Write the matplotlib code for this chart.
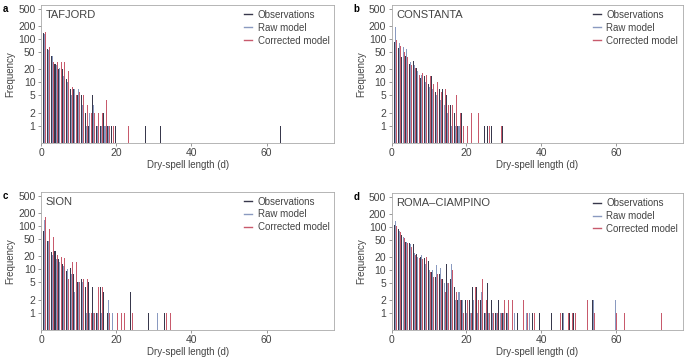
import matplotlib as mpl
import matplotlib.pyplot as plt
import numpy as np

mpl.rcParams["font.family"] = ["Liberation Sans", "DejaVu Sans"]
mpl.rcParams["font.size"] = 7

# frequency of dry spells per length (days 1..N), 0 = no bar
tafjord_obs = [140, 60, 42, 27, 20, 20, 12, 7, 7, 5, 5, 2, 1, 5, 1, 1, 2, 1, 1, 1,
               0, 0, 0, 0, 0, 0, 0, 1, 0, 0, 0, 1] + [0] * 31 + [1]
tafjord_raw = [135, 55, 40, 25, 22, 14, 10, 5, 7, 7, 3, 1, 2, 3, 1, 1, 1, 1]
tafjord_cor = [150, 65, 30, 30, 30, 30, 18, 8, 5, 6, 5, 3, 2, 2, 2, 2, 4, 1, 1, 0,
               0, 0, 1]

constanta_obs = [88, 62, 38, 42, 27, 32, 22, 13, 14, 9, 14, 6, 7, 7, 5, 3, 2, 1, 2, 0,
                 0, 0, 0, 0, 1, 1, 1, 0, 0, 1]
constanta_raw = [190, 80, 65, 60, 30, 26, 18, 15, 10, 8, 7, 5, 4, 3, 2, 1, 1, 1]
constanta_cor = [95, 70, 50, 38, 26, 22, 15, 17, 15, 14, 9, 10, 6, 7, 3, 3, 5, 2, 1, 1,
                 2, 0, 2, 0, 0, 1, 0, 0, 1]

sion_obs = [75, 45, 25, 26, 17, 13, 9, 11, 8, 5, 6, 4, 5, 4, 1, 4, 3, 1, 0, 0,
            0, 0, 0, 3, 0, 0, 0, 0, 1, 0, 0, 0, 1]
sion_raw = [140, 45, 22, 17, 15, 12, 10, 8, 3, 5, 5, 1, 1, 1, 1, 1, 0, 2, 1, 0,
            0, 0, 0, 0, 0, 0, 0, 0, 0, 0, 1]
sion_cor = [160, 85, 55, 22, 19, 18, 6, 15, 15, 5, 6, 6, 1, 1, 4, 4, 0, 1, 0, 1,
            1, 1, 0, 1, 0, 0, 0, 0, 0, 0, 0, 0, 1, 1]

roma_obs = [115, 90, 65, 45, 42, 40, 24, 20, 19, 16, 9, 7, 8, 6, 14, 6, 4, 2, 2, 2,
            2, 4, 4, 2, 1, 5, 2, 1, 2, 1, 1, 0, 0, 1, 0, 0, 0, 1, 0, 1,
            0, 0, 1, 0, 0, 1, 0, 1, 1, 0, 0, 0, 0, 2]
roma_raw = [140, 80, 60, 45, 40, 25, 20, 22, 14, 10, 10, 13, 11, 5, 5, 14, 2, 3, 2, 1,
            1, 2, 1, 3, 1, 1, 1, 1, 1, 1, 1, 0, 1, 0, 0, 1, 1, 0, 0, 0,
            0, 0, 0, 0, 0, 1, 0, 0, 0, 0, 0, 0, 0, 2, 0, 0, 0, 0, 0, 2]
roma_cor = [105, 75, 55, 42, 35, 22, 19, 18, 20, 9, 7, 8, 6, 3, 5, 10, 3, 2, 1, 2,
            1, 4, 2, 6, 2, 1, 1, 1, 1, 2, 2, 2, 0, 0, 2, 1, 0, 1, 0, 0,
            0, 0, 0, 0, 1, 0, 1, 1, 1, 0, 0, 2, 0, 1, 0, 0, 0, 0, 0, 1,
            0, 1, 0, 0, 0, 0, 0, 0, 0, 0, 0, 1]

stations = ["TAFJORD", "CONSTANTA", "SION", "ROMA\u2013CIAMPINO"]
letters = ["a", "b", "c", "d"]
series = [
    (tafjord_obs, tafjord_raw, tafjord_cor),
    (constanta_obs, constanta_raw, constanta_cor),
    (sion_obs, sion_raw, sion_cor),
    (roma_obs, roma_raw, roma_cor),
]
labels = ["Observations", "Raw model", "Corrected model"]
colors = ["#38384c", "#8a9ac0", "#c85a6c"]
offsets = [-0.3, 0.0, 0.3]
floor = 0.4

# axes boxes in figure fraction [left, bottom, width, height]
boxes = [
    [0.060, 0.602, 0.428, 0.384],
    [0.572, 0.602, 0.425, 0.384],
    [0.060, 0.081, 0.428, 0.385],
    [0.572, 0.081, 0.425, 0.381],
]

fig = plt.figure(figsize=(6.85, 3.59), dpi=100)

for i in range(4):
    ax = fig.add_axes(boxes[i])
    for vals, lab, col, off in zip(series[i], labels, colors, offsets):
        v = np.array(vals, dtype=float)
        d = np.arange(1, len(v) + 1)
        m = v > 0
        ax.bar(d[m] + off, v[m] - floor, width=0.27, bottom=floor, color=col, linewidth=0)
        ax.plot([], [], color=col, lw=1.0, label=lab)
    ax.set_yscale("log")
    ax.set_ylim(floor, 620)
    ax.set_xlim(0, 78)
    ax.set_yticks([1, 2, 5, 10, 20, 50, 100, 200, 500])
    ax.set_yticklabels(["1", "2", "5", "10", "20", "50", "100", "200", "500"])
    ax.minorticks_off()
    ax.set_xticks([0, 20, 40, 60])
    ax.tick_params(direction="out", length=2.5, width=0.6, color="#888888",
                   labelcolor="#444444", labelsize=7.5, pad=1.5)
    for s in ax.spines.values():
        s.set_color("#aaaaaa")
        s.set_linewidth(0.6)
    ax.set_xlabel("Dry-spell length (d)", color="#444444", fontsize=7, labelpad=1)
    ax.set_ylabel("Frequency", color="#444444", fontsize=7, labelpad=2)
    ax.text(0.015, 0.965, stations[i], transform=ax.transAxes, ha="left", va="top",
            color="#444444", fontsize=8)
    ax.legend(loc="upper right", frameon=False, handlelength=0.8, handletextpad=0.6,
              labelspacing=0.3, borderaxespad=0.1, fontsize=7, labelcolor="#444444")
    x0 = boxes[i][0] - 0.056
    y0 = boxes[i][1] + boxes[i][3] + 0.003
    fig.text(x0, y0, letters[i], fontweight="bold", fontsize=7, ha="left", va="top")

plt.savefig("out.png", dpi=100)
